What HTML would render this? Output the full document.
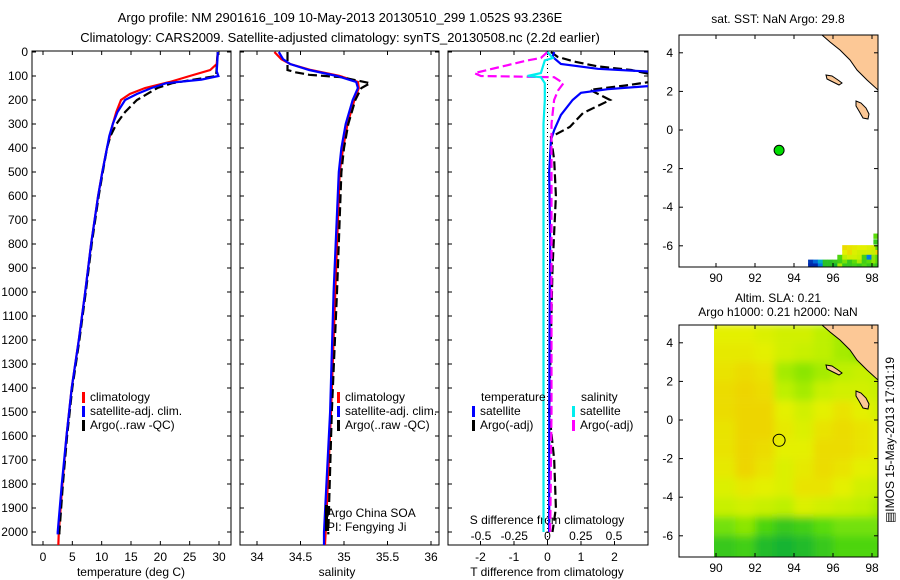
<!DOCTYPE html>
<html><head><meta charset="utf-8"><style>
body{margin:0;background:#fff}
svg{display:block;font-family:"Liberation Sans",sans-serif}
text{font-size:12px;fill:#000}
</style></head><body>
<svg id="fig" width="900" height="580" viewBox="0 0 900 580">
<defs>
<clipPath id="c1"><rect x="32" y="51" width="199" height="494"/></clipPath>
<clipPath id="c2"><rect x="240" y="51" width="199" height="494"/></clipPath>
<clipPath id="c3"><rect x="448" y="51" width="200" height="494"/></clipPath>
<clipPath id="cm1"><rect x="679" y="35" width="199" height="232"/></clipPath>
<clipPath id="cm2"><rect x="714" y="325" width="164" height="232"/></clipPath>
<filter id="blur" x="-5%" y="-5%" width="110%" height="110%"><feGaussianBlur stdDeviation="4"/></filter>
</defs>
<text x="340" y="22" text-anchor="middle" style="font-size:13px">Argo profile: NM 2901616_109 10-May-2013 20130510_299 1.052S 93.236E</text>
<text x="340" y="42" text-anchor="middle" style="font-size:13px">Climatology: CARS2009. Satellite-adjusted climatology: synTS_20130508.nc (2.2d earlier)</text>
<g id="g"></g>
</svg>
<script>
// ---- profile data ----
const tDepth = [0,50,75,100,125,150,175,200,250,300,400,500,600,800,1000,1200,1400,1600,1800,2000,2060];
const tClim  = [29.8,29.6,28.5,25,21.6,17.4,14.8,13.3,12.5,11.9,10.9,10.1,9.4,8.2,7.2,6.1,4.9,4.0,3.3,2.7,2.6];
const tSatDepth=[0,50,80,100,115,130,150,175,200,250,300,350,400,500,600,800,1000,1200,1400,1600,1800,2000,2010];
const tSat   = [29.8,29.7,29.6,29.9,27,21,18.5,16,14,12.7,11.9,11.3,10.9,10.1,9.4,8.2,7.2,6.1,4.9,4.0,3.2,2.5,2.5];
const tArgoDepth=[0,100,110,130,150,200,250,300,350,400,500,600,800,1000,1200,1400,1600,1800,2000,2010];
const tArgo  = [29.8,29.5,27,22,19.5,16,14,12.5,11.5,10.9,10.2,9.5,8.3,7.3,6.2,5.0,4.1,3.4,2.8,2.8];
const sDepth = [0,30,50,75,100,125,150,200,300,400,500,1000,1500,2000,2060];
const sClim  = [34.2,34.28,34.38,34.62,34.95,35.16,35.17,35.12,35.04,34.99,34.95,34.9,34.85,34.79,34.78];
const sSat   = [34.25,34.3,34.38,34.6,34.92,35.14,35.16,35.1,35.02,34.97,34.94,34.88,34.84,34.77,34.77];
const sArgoDepth=[0,75,85,95,105,130,150,200,300,400,500,1000,1500,2000,2010];
const sArgo  = [34.35,34.35,34.45,34.6,34.97,35.3,35.2,35.13,35.05,35.0,34.97,34.92,34.86,34.82,34.82];
// differences
const dDepth = [0,20,50,70,83,100,130,142,155,170,200,262,325,367,500,800,1200,1600,2000];
const dTSat  = [0.2,0.15,0.4,1.5,3.2,3.5,3.5,3.0,1.8,1.0,0.75,0.4,0.2,0.1,0.05,0.08,0.06,0.05,0.05];
const dAgDepth=[0,20,40,60,75,90,120,140,158,200,254,312,354,450,600,900,1200,1500,1700,1900,2000];
const dTArgo = [0.1,0.3,0.8,1.5,2.5,3.0,3.3,2.3,1.27,1.87,1.06,0.67,0.1,0.2,0.25,0.15,0.1,0.05,0.2,0.25,0.15];
const dSDepth= [0,25,35,88,100,105,130,160,200,300,800,1500,2000];
const dSArgo = [0,-0.05,-0.15,-0.55,-0.5,0.05,0.12,0.08,0.05,0.03,0.03,0.03,0.02];
const dSSat  = [0,0.04,-0.02,-0.05,-0.15,-0.05,-0.02,-0.02,-0.02,-0.03,-0.03,-0.03,-0.03];
// axis ticks
const depthTicks=[0,100,200,300,400,500,600,700,800,900,1000,1100,1200,1300,1400,1500,1600,1700,1800,1900,2000];
const tTicks=[0,5,10,15,20,25,30];
const sTicks=[34,34.5,35,35.5,36];
const dtTicks=[-2,-1,0,1,2];
const dsTicks=[-0.5,-0.25,0,0.25,0.5];
const lonTicks=[90,92,94,96,98];
const latTicks=[4,2,0,-2,-4,-6];
// SLA grid (lat rows 4.5..-7.5, lon cols 89.5..98.5), 1=high(orange) 0=low(green)
const slaLats=[4.5,3.5,2.5,1.5,0.5,-0.5,-1.5,-2.5,-3.5,-4.5,-5.5,-6.5,-7.5];
const slaLons=[89.5,90.5,91.5,92.5,93.5,94.5,95.5,96.5,97.5,98.5];
const sla=[
[0.7,0.7,0.7,0.65,0.6,0.6,0.5,0.45,0.4,0.3],
[0.75,0.75,0.75,0.7,0.6,0.55,0.5,0.45,0.4,0.4],
[0.8,0.8,0.85,0.8,0.45,0.4,0.45,0.5,0.55,0.5],
[0.85,0.85,0.9,0.85,0.5,0.45,0.55,0.6,0.6,0.55],
[0.85,0.85,0.9,0.9,0.7,0.6,0.7,0.8,0.7,0.6],
[0.8,0.8,0.9,0.9,0.75,0.65,0.8,0.85,0.8,0.7],
[0.8,0.8,0.9,0.85,0.7,0.7,0.85,0.85,0.8,0.7],
[0.75,0.75,0.9,0.8,0.65,0.75,0.85,0.8,0.7,0.65],
[0.65,0.65,0.75,0.7,0.65,0.8,0.8,0.7,0.6,0.55],
[0.55,0.55,0.6,0.55,0.5,0.65,0.6,0.55,0.5,0.45],
[0.35,0.35,0.4,0.25,0.15,0.2,0.3,0.35,0.35,0.35],
[0.15,0.15,0.2,0.05,0.0,0.05,0.15,0.25,0.25,0.25],
[0.15,0.15,0.2,0.05,0.0,0.05,0.15,0.25,0.25,0.25]];
// SST cells: [lon, lat, value]
const sstCells=[
[98.2,-5.5,0.3],[98.2,-5.8,0.15],
[96.6,-6.1,0.85],[96.85,-6.1,0.8],[97.1,-6.1,0.75],[97.35,-6.1,0.7],[97.6,-6.1,0.7],[97.85,-6.1,0.65],[98.1,-6.1,0.6],[98.3,-6.1,0.3],
[96.6,-6.35,0.7],[96.85,-6.35,0.85],[97.1,-6.35,0.65],[97.35,-6.35,0.6],[97.6,-6.35,0.6],[97.85,-6.35,0.6],[98.1,-6.35,0.55],[98.3,-6.35,0.9],
[96.35,-6.6,0.25],[96.6,-6.6,0.5],[96.85,-6.6,0.6],[97.1,-6.6,0.6],[97.35,-6.6,0.55],[97.6,-6.6,0.2],[97.85,-6.6,-0.5],[98.1,-6.6,0.4],[98.3,-6.6,0.3],
[94.85,-6.85,-0.9],[95.1,-6.85,-0.6],[95.35,-6.85,-0.3],[95.6,-6.85,0.1],[95.85,-6.85,0.1],[96.1,-6.85,0.15],[96.35,-6.85,0.2],[96.6,-6.85,0.35],[96.85,-6.85,0.15],[97.1,-6.85,0.3],[97.35,-6.85,0.45],[97.6,-6.85,0.2],[97.85,-6.85,0.3],[98.1,-6.85,0.4],[98.3,-6.85,0.3],
[94.85,-7.05,-1],[95.1,-7.05,-1],[95.35,-7.05,-0.5],[95.6,-7.05,0.1],[95.85,-7.05,0.1],[96.1,-7.05,0.0],[96.35,-7.05,0.45],[96.6,-7.05,0.15],[96.85,-7.05,0.15],[97.1,-7.05,0.2],[97.35,-7.05,0.15],[97.6,-7.05,0.25],[97.85,-7.05,0.15],[98.1,-7.05,0.2],[98.3,-7.05,0.15]];
const argoLon=93.236, argoLat=-1.052;

const NS='http://www.w3.org/2000/svg';
const G=document.getElementById('g');
function el(tag,attrs,parent){const e=document.createElementNS(NS,tag);for(const k in attrs)e.setAttribute(k,attrs[k]);(parent||G).appendChild(e);return e;}
function txt(x,y,s,anchor,parent,size){const t=el('text',{x:x,y:y,'text-anchor':anchor||'start'},parent);if(size)t.style.fontSize=size+'px';t.textContent=s;return t;}

const Y=d=>52+0.24*d;
const xT=v=>43+5.867*v;
const xS=v=>257+87*(v-34);
const xDT=v=>547.5+33.5*v;
const xDS=v=>547.5+133*v;
const mx=lon=>716+19.5*(lon-90);
const my1=lat=>130-19.3*lat;
const my2=lat=>420-19.3*lat;

function frame(x,y,w,h,name){const r=el('rect',{x:x,y:y,width:w,height:h,fill:'none',stroke:'#000','stroke-width':1});}
function line(x1,y1,x2,y2,p){return el('line',{x1:x1,y1:y1,x2:x2,y2:y2,stroke:'#000','stroke-width':1},p);}
function prof(depths,vals,sx,color,dash,clip,name,w){
  let d='';for(let i=0;i<depths.length;i++)d+=(i?'L':'M')+sx(vals[i]).toFixed(1)+','+Y(depths[i]).toFixed(1);
  const p=el('path',{d:d,fill:'none',stroke:color,'stroke-width':w||2.2,'clip-path':'url(#'+clip+')'});
  if(dash)p.setAttribute('stroke-dasharray',dash);
  
}
// ---- profile panels ----
const panels=[[32,199,'c1'],[240,199,'c2'],[448,200,'c3']];
panels.forEach((p,i)=>{
  frame(p[0],51,p[1],494,'profile-panel-'+(i+1));
  depthTicks.forEach(d=>{line(p[0],Y(d),p[0]+4,Y(d));line(p[0]+p[1],Y(d),p[0]+p[1]-4,Y(d));});
});
depthTicks.forEach(d=>{const t=txt(28,Y(d)+4,String(d),'end');});
tTicks.forEach(v=>{line(xT(v),545,xT(v),541);line(xT(v),51,xT(v),55);const t=txt(xT(v),561,String(v),'middle');});
sTicks.forEach(v=>{line(xS(v),545,xS(v),541);line(xS(v),51,xS(v),55);const t=txt(xS(v),561,String(v),'middle');});
dtTicks.forEach(v=>{line(xDT(v),545,xDT(v),541);line(xDT(v),51,xDT(v),55);const t=txt(xDT(v),561,String(v),'middle');});
dsTicks.forEach(v=>{const t=txt(xDS(v),540,String(v),'middle');});
let a=txt(131,576,'temperature (deg C)','middle');
a=txt(337,576,'salinity','middle');
a=txt(547,576,'T difference from climatology','middle');
a=txt(547,524,'S difference from climatology','middle');

prof(tDepth,tClim,xT,'#f00',null,'c1','temp-climatology-line');
prof(tArgoDepth,tArgo,xT,'#000','9,4','c1','temp-argo-line');
prof(tSatDepth,tSat,xT,'#00f',null,'c1','temp-satellite-line');
prof(sDepth,sClim,xS,'#f00',null,'c2','sal-climatology-line');
prof(sArgoDepth,sArgo,xS,'#000','9,4','c2','sal-argo-line');
prof(sDepth,sSat,xS,'#00f',null,'c2','sal-satellite-line');
el('line',{x1:547.5,y1:52,x2:547.5,y2:545,stroke:'#000','stroke-width':1,'stroke-dasharray':'1,3'});
prof(dAgDepth,dTArgo,xDT,'#000','9,4','c3','tdiff-argo-line');
prof(dDepth,dTSat,xDT,'#00f',null,'c3','tdiff-satellite-line');
prof(dSDepth,dSArgo,xDS,'#f0f','9,4','c3','sdiff-argo-line');
prof(dSDepth,dSSat,xDS,'#0ee',null,'c3','sdiff-satellite-line');

function leg(x,y,color,label,name){el('rect',{x:x,y:y-9,width:3,height:11,fill:color});const t=txt(x+8,y,label);}
leg(82,401,'#f00','climatology','legend-climatology');
leg(82,415,'#00f','satellite-adj. clim.','legend-satellite');
leg(82,429,'#000','Argo(..raw -QC)','legend-argo');
leg(337,401,'#f00','climatology','legend2-climatology');
leg(337,415,'#00f','satellite-adj. clim.','legend2-satellite');
leg(337,429,'#000','Argo(..raw -QC)','legend2-argo');
a=txt(481,401,'temperature');
a=txt(581,401,'salinity');
leg(472,415,'#00f','satellite','legend-tdiff-satellite');
leg(472,429,'#000','Argo(-adj)','legend-tdiff-argo');
leg(572,415,'#0ee','satellite','legend-sdiff-satellite');
leg(572,429,'#f0f','Argo(-adj)','legend-sdiff-argo');
el('rect',{x:325,y:505,width:3,height:26,fill:'#000'});
a=txt(327,517,'Argo China SOA');
a=txt(327,531,'PI: Fengying Ji');

// ---- maps ----
function cmap(v){ // v in [-1,1]
  const stops=[[-1,[0,40,170]],[-0.5,[0,120,230]],[-0.2,[0,200,180]],[0,[20,180,50]],[0.3,[90,220,10]],[0.5,[190,240,0]],[0.7,[228,240,0]],[1,[242,200,0]]];
  for(let i=1;i<stops.length;i++){if(v<=stops[i][0]){const a=stops[i-1],b=stops[i];const f=(v-a[0])/(b[0]-a[0]);const c=a[1].map((x,j)=>Math.round(x+(b[1][j]-x)*f));return 'rgb('+c+')';}}
  return 'rgb(242,200,0)';
}
function coast(my,off,parent){
  const land=el('polygon',{points:'822,35 830,42 840,50 850,60 857,70 867,80 878,90 878,35',fill:'#fcc896',stroke:'#000','stroke-width':1},parent);
  land.setAttribute('transform','translate(0,'+off+')');
  
  const i1=el('polygon',{points:'826,75 832,76 838,80 842,83 839,85 831,81 827,79',fill:'#fcc896',stroke:'#000','stroke-width':1},parent);
  i1.setAttribute('transform','translate(0,'+off+')');
  
  const i2=el('polygon',{points:'856,101 861,103 866,108 869,114 868,119 863,118 859,111 856,106',fill:'#fcc896',stroke:'#000','stroke-width':1},parent);
  i2.setAttribute('transform','translate(0,'+off+')');
  
}
function mapAxes(my,top,labY,name){
  frame(679,top,199,232,name);
  lonTicks.forEach(l=>{line(mx(l),top,mx(l),top+4);line(mx(l),top+232,mx(l),top+228);const t=txt(mx(l),labY,String(l),'middle');});
  latTicks.forEach(l=>{line(679,my(l),683,my(l));line(878,my(l),874,my(l));const t=txt(673,my(l)+4,String(l),'end');});
}
// map 1
const m1=el('g',{'clip-path':'url(#cm1)'});
sstCells.forEach(c=>{const r=el('rect',{x:mx(c[0])-2.5,y:my1(c[1])-2.6,width:5.2,height:5.3,fill:cmap(c[2])},m1);});
coast(my1,0,m1);
mapAxes(my1,35,282,'sst-map');
a=txt(778,23,'sat. SST: NaN Argo: 29.8','middle');
a=el('circle',{cx:mx(argoLon),cy:my1(argoLat),r:5,fill:'#0d0',stroke:'#000','stroke-width':1});
// map 2
const m2=el('g',{'clip-path':'url(#cm2)'});
const m2b=el('g',{filter:'url(#blur)'},m2);
for(let r=0;r<slaLats.length;r++)for(let c=0;c<slaLons.length;c++){
  const cell=el('rect',{x:mx(slaLons[c]-0.5),y:my2(slaLats[r]+0.5),width:19.6,height:19.4,fill:cmap(sla[r][c])},m2b);
  
}
coast(my2,290,m2);
mapAxes(my2,325,572,'sla-map');
a=txt(778,302,'Altim. SLA: 0.21','middle');
a=txt(778,316,'Argo h1000: 0.21 h2000: NaN','middle');
a=el('circle',{cx:mx(argoLon),cy:my2(argoLat),r:6,fill:'none',stroke:'#000','stroke-width':1});
a=txt(0,0,'\u25a4IMOS 15-May-2013 17:01:19','middle');a.setAttribute('transform','translate(894,440) rotate(-90)');
</script>
</body></html>
